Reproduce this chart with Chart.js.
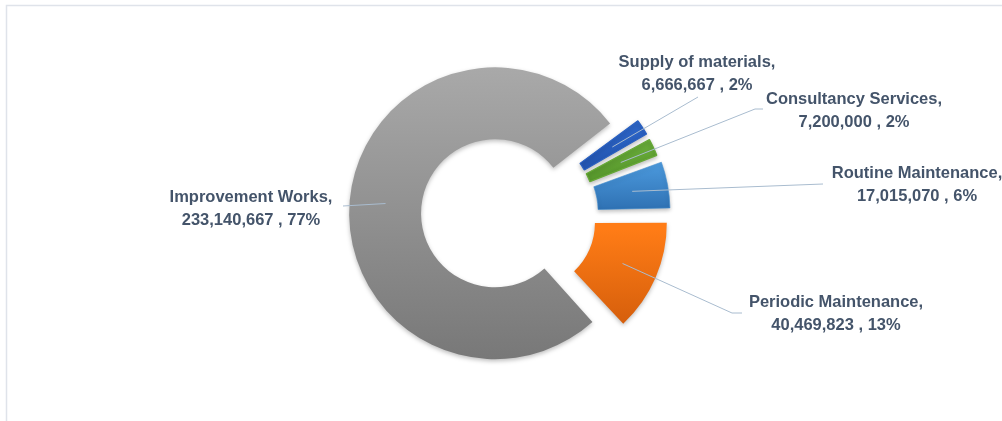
<!DOCTYPE html>
<html>
<head>
<meta charset="utf-8">
<script src="https://cdn.jsdelivr.net/npm/chart.js@4.4.1/dist/chart.umd.min.js"></script>
<style>
  body { margin: 0; background: #fff; }
  #wrap { position: relative; width: 1002px; height: 421px; }
</style>
</head>
<body>
<div id="wrap"><canvas id="myChart"></canvas></div>
<script>
const categories = ['Supply of materials', 'Consultancy Services', 'Routine Maintenance', 'Periodic Maintenance', 'Improvement Works']
const amounts = [6666667, 7200000, 17015070, 40469823, 233140667]

// look of each slice: gradient top / bottom colour, y span of the gradient (px from centre), explode offset
const topColors = ['#2f6bd0', '#72b640', '#56a8ec', '#ff7c16', '#a9a9a9']
const bottomColors = ['#2457b4', '#5a9b2e', '#2e70b2', '#cf5a0a', '#787878']
const edgeColors = ['#2960c2', '#66a936', '#3f8bcf', '#e86c12', '#909090']
const edgeWidths = [1.2, 1.2, 0.6, 0, 0]
const gradientSpans = [[-95, -45], [-85, -35], [-65, 0], [6, 116], [-146, 146]]
const explode = [59, 59, 71, 88, 56]

// where each data label sits: text centre, first line y, leader line end (and elbow)
const labelSpots = [
    { x: 697, y: 62, path: [[698, 97]] },
    { x: 854, y: 99, path: [[755, 109], [763, 109]] },
    { x: 917, y: 173, path: [[823, 184]] },
    { x: 836, y: 302, path: [[732, 313], [742, 313]] },
    { x: 251, y: 197, path: [[343, 206]] }
]

const total = amounts.reduce((a, b) => a + b, 0)

function getGradient(chart, i) {
    const area = chart.chartArea
    if (!area) return topColors[i]
    const cy = (area.top + area.bottom) / 2
    const g = chart.ctx.createLinearGradient(0, cy + gradientSpans[i][0], 0, cy + gradientSpans[i][1])
    g.addColorStop(0, topColors[i])
    g.addColorStop(1, bottomColors[i])
    return g
}

const framePlugin = {
    id: 'frame',
    beforeDraw(chart) {
        const ctx = chart.ctx
        ctx.save()
        ctx.strokeStyle = '#dfe3ea'
        ctx.lineWidth = 1.5
        ctx.beginPath()
        ctx.moveTo(6.5, 421)
        ctx.lineTo(6.5, 5.5)
        ctx.lineTo(1002, 5.5)
        ctx.stroke()
        ctx.restore()
    }
}

const shadowPlugin = {
    id: 'softShadow',
    beforeDatasetsDraw(chart) {
        const ctx = chart.ctx
        ctx.save()
        ctx.shadowColor = 'rgba(0, 0, 0, 0.25)'
        ctx.shadowBlur = 4
        ctx.shadowOffsetX = 0
        ctx.shadowOffsetY = 2
    },
    afterDatasetsDraw(chart) {
        chart.ctx.restore()
    }
}

const labelPlugin = {
    id: 'sliceLabels',
    afterDatasetsDraw(chart) {
        const ctx = chart.ctx
        const meta = chart.getDatasetMeta(0)
        meta.data.forEach((arc, i) => {
            const spot = labelSpots[i]
            const off = (arc.options.offset || 0) / 4
            const circ = arc.endAngle - arc.startAngle
            const fix = 1 - Math.sin(Math.min(Math.PI, circ))
            const mid = (arc.startAngle + arc.endAngle) / 2
            const r = off + off * fix + (arc.innerRadius + arc.outerRadius) / 2
            const sx = arc.x + Math.cos(mid) * r
            const sy = arc.y + Math.sin(mid) * r

            ctx.save()
            ctx.strokeStyle = '#a9bccf'
            ctx.lineWidth = 1
            ctx.beginPath()
            ctx.moveTo(sx, sy)
            spot.path.forEach(p => ctx.lineTo(p[0], p[1]))
            ctx.stroke()

            const pct = Math.round(amounts[i] / total * 100)
            ctx.fillStyle = '#44546a'
            ctx.font = 'bold 16.5px "Liberation Sans", Arial, sans-serif'
            ctx.textAlign = 'center'
            ctx.textBaseline = 'middle'
            ctx.fillText(categories[i] + ',', spot.x, spot.y)
            ctx.fillText(amounts[i].toLocaleString('en-US') + ' , ' + pct + '%', spot.x, spot.y + 23.5)
            ctx.restore()
        })
    }
}

new Chart(document.getElementById('myChart'), {
    type: 'doughnut',
    data: {
        labels: categories,
        datasets: [{
            data: amounts,
            backgroundColor: (c) => getGradient(c.chart, c.dataIndex),
            borderColor: edgeColors,
            borderWidth: edgeWidths,
            offset: explode,
            hoverOffset: 0
        }]
    },
    options: {
        responsive: true,
        maintainAspectRatio: false,
        animation: false,
        cutout: '45.5%',
        rotation: 52.9,
        layout: { padding: { top: 38, bottom: 30, left: 16, right: 0 } },
        plugins: {
            legend: { display: false },
            tooltip: { enabled: false }
        }
    },
    plugins: [framePlugin, shadowPlugin, labelPlugin]
})
</script>
</body>
</html>
